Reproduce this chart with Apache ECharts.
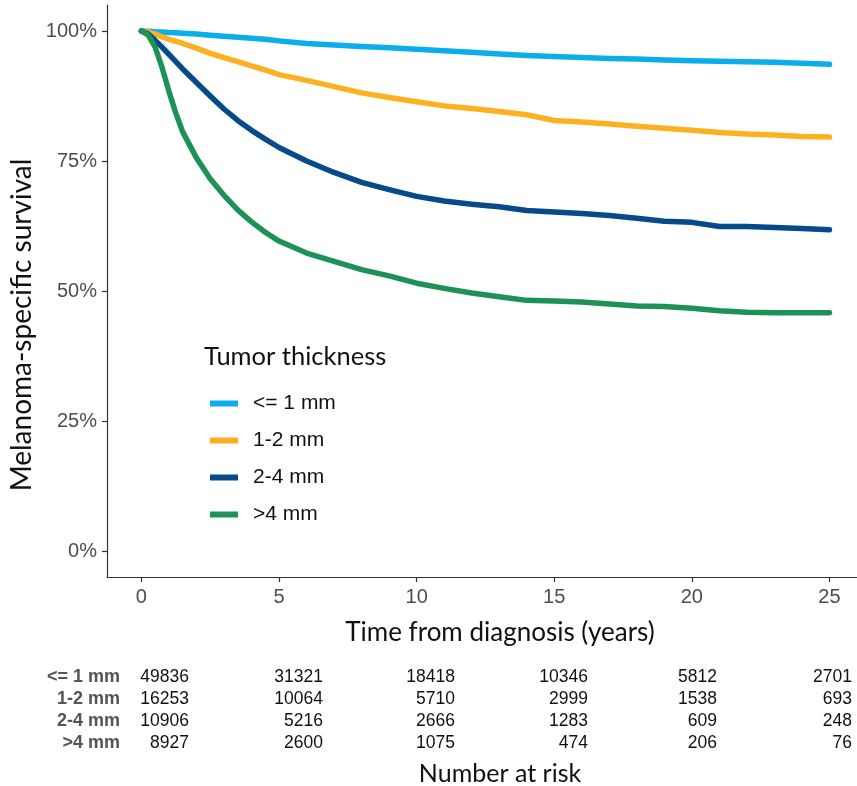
<!DOCTYPE html>
<html>
<head>
<meta charset="utf-8">
<script src="https://cdn.jsdelivr.net/npm/echarts@6/dist/echarts.min.js"></script>
<style>
html,body{margin:0;padding:0;background:#fff;}
#chart{width:857px;height:786px;}
</style>
</head>
<body>
<div id="chart"></div>
<script>
// ---- data ----
var times = [0, 0.25, 0.5, 0.75, 1, 1.25, 1.5, 2, 2.5, 3, 3.5, 4, 4.5, 5, 6, 7, 8, 9, 10, 11, 12, 13, 14, 15, 16, 17, 18, 19, 20, 21, 22, 23, 24, 25];
var seriesNames = ['<= 1 mm', '1-2 mm', '2-4 mm', '>4 mm'];
var survLe1 = [100, 99.95, 99.85, 99.8, 99.7, 99.65, 99.55, 99.4, 99.2, 99.0, 98.8, 98.6, 98.4, 98.1, 97.6, 97.3, 97.0, 96.8, 96.5, 96.2, 95.9, 95.6, 95.3, 95.1, 94.9, 94.7, 94.6, 94.4, 94.3, 94.2, 94.1, 94.0, 93.8, 93.6];
var surv1to2 = [100, 99.8, 99.4, 98.9, 98.4, 98.0, 97.6, 96.7, 95.7, 94.9, 94.1, 93.3, 92.5, 91.6, 90.5, 89.3, 88.1, 87.2, 86.4, 85.6, 85.1, 84.5, 83.9, 82.8, 82.5, 82.1, 81.7, 81.3, 80.9, 80.5, 80.2, 80.0, 79.7, 79.6];
var surv2to4 = [100, 99.4, 98.2, 96.9, 95.5, 94.1, 92.7, 90.1, 87.5, 85.0, 82.8, 80.9, 79.2, 77.6, 75.0, 72.8, 70.9, 69.5, 68.2, 67.3, 66.7, 66.2, 65.5, 65.2, 64.9, 64.5, 64.0, 63.4, 63.2, 62.4, 62.4, 62.2, 62.0, 61.8];
var survGt4 = [100, 99.2, 96.9, 93.0, 88.4, 84.2, 80.6, 75.6, 71.6, 68.4, 65.6, 63.3, 61.3, 59.6, 57.3, 55.7, 54.1, 52.9, 51.5, 50.5, 49.6, 48.9, 48.2, 48.1, 47.9, 47.5, 47.1, 47.0, 46.7, 46.2, 45.9, 45.8, 45.8, 45.8];
var xTicks = [0, 5, 10, 15, 20, 25];
var yTicks = [0, 25, 50, 75, 100];
var riskLe1 = [49836, 31321, 18418, 10346, 5812, 2701];
var risk1to2 = [16253, 10064, 5710, 2999, 1538, 693];
var risk2to4 = [10906, 5216, 2666, 1283, 609, 248];
var riskGt4 = [8927, 2600, 1075, 474, 206, 76];

var colors = ['#0aaeea', '#fdb121', '#064a8a', '#1e9256'];
var allSurv = [survLe1, surv1to2, surv2to4, survGt4];
var allRisk = [riskLe1, risk1to2, risk2to4, riskGt4];

function pairs(vals){ return times.map(function(t,i){ return [t, vals[i]]; }); }

var chart = echarts.init(document.getElementById('chart'), null, {renderer:'canvas'});

var series = seriesNames.map(function(n, i){
  return {
    name: n, type: 'line', data: pairs(allSurv[i]),
    showSymbol: false, symbol: 'none', smooth: false,
    lineStyle: {color: colors[i], width: 5.5, cap: 'round', join: 'round'},
    itemStyle: {color: colors[i]},
    z: 2 + i, animation: false
  };
});

var titleFont = 'Lato, "Open Sans", sans-serif';
var sansFont = '"Liberation Sans", Arial, sans-serif';

// risk table graphic
var graphics = [];
var colRight = [189, 323, 455, 588, 717, 852];
var rowY = [677, 699, 721, 743];
seriesNames.forEach(function(n, r){
  graphics.push({type:'text', x: 120, y: rowY[r], style:{text: n, align:'right', verticalAlign:'middle', font:'bold 18px ' + sansFont, fill:'#555555'}});
  allRisk[r].forEach(function(v, c){
    graphics.push({type:'text', x: colRight[c], y: rowY[r], style:{text: String(v), align:'right', verticalAlign:'middle', font:'17.5px ' + sansFont, fill:'#111111'}});
  });
});
graphics.push({type:'text', x: 500, y: 774, style:{text:'Number at risk', align:'center', verticalAlign:'middle', font:'25px ' + titleFont, fill:'#111'}});
graphics.push({type:'text', x: 500, y: 633, style:{text:'Time from diagnosis (years)', align:'center', verticalAlign:'middle', font:'26px ' + titleFont, fill:'#111'}});
graphics.push({type:'text', x: 22, y: 325, rotation: Math.PI/2, style:{text:'Melanoma-specific survival', align:'center', verticalAlign:'middle', font:'28px ' + titleFont, fill:'#111'}});
graphics.push({type:'text', x: 204, y: 357, style:{text:'Tumor thickness', align:'left', verticalAlign:'middle', font:'25.5px ' + titleFont, fill:'#111'}});

chart.setOption({
  animation: false,
  backgroundColor: '#ffffff',
  grid: {left: 107, right: 0, top: 5, bottom: 209, containLabel: false},
  xAxis: {
    type: 'value', min: -1.25, max: 26,
    axisLine: {show: true, onZero: false, lineStyle: {color: '#333', width: 1.2}},
    axisTick: {show: true, length: 5, lineStyle: {color: '#333', width: 1.2}, customValues: xTicks},
    axisLabel: {customValues: xTicks, color: '#4d4d4d', fontSize: 20, fontFamily: sansFont, margin: 10},
    splitLine: {show: false}
  },
  yAxis: {
    type: 'value', min: -5, max: 105,
    axisLine: {show: true, onZero: false, lineStyle: {color: '#333', width: 1.2}},
    axisTick: {show: true, length: 5, lineStyle: {color: '#333', width: 1.2}, customValues: yTicks},
    axisLabel: {customValues: yTicks, color: '#4d4d4d', fontSize: 20, fontFamily: sansFont, margin: 10,
      formatter: function(v){ return v + '%'; }},
    splitLine: {show: false}
  },
  legend: {
    data: seriesNames, orient: 'vertical', left: 205, top: 388,
    icon: 'rect', itemWidth: 28, itemHeight: 6, itemGap: 16,
    textStyle: {fontSize: 21, fontFamily: sansFont, color: '#111', lineHeight: 20, padding: [0,0,0,10]},
    selectedMode: false
  },
  graphic: graphics,
  series: series
});
</script>
</body>
</html>
